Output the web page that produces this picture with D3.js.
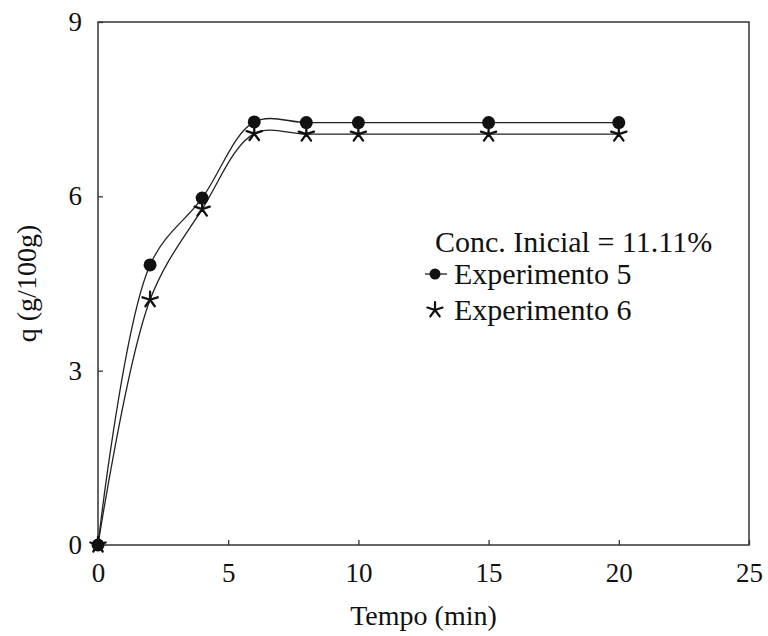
<!DOCTYPE html>
<html>
<head>
<meta charset="utf-8">
<script src="https://cdn.jsdelivr.net/npm/d3@7"></script>
<style>
  body { margin: 0; background: #fff; }
</style>
</head>
<body>
<div id="canvas"></div>
<script>
// data
const tempo = [0, 2, 4, 6, 8, 10, 15, 20];
const exp5 = [0, 4.82, 5.97, 7.28, 7.27, 7.27, 7.27, 7.27];
const exp6 = [0, 4.22, 5.78, 7.08, 7.07, 7.07, 7.07, 7.07];
const xTicks = [0, 5, 10, 15, 20, 25];
const yTicks = [0, 3, 6, 9];
const legendTitle = "Conc. Inicial = 11.11%";
const seriesNames = ["Experimento 5", "Experimento 6"];

const serif = "'Liberation Serif', 'Times New Roman', serif";

let margin = { top: 22, right: 19, bottom: 91, left: 98 },
  width = 768 - margin.left - margin.right,
  height = 636 - margin.top - margin.bottom;

let svg = d3.select("#canvas")
  .append("svg")
  .attr("width", 768)
  .attr("height", 636)
  .append("g")
  .attr("transform", "translate(" + margin.left + "," + margin.top + ")");

let x = d3.scaleLinear().domain([0, 25]).range([0, width]);
let y = d3.scaleLinear().domain([0, 9]).range([height, 0]);

// axes with inward ticks
let xAxis = svg.append("g")
  .attr("transform", "translate(0," + height + ")")
  .call(d3.axisBottom(x).tickValues(xTicks).tickSizeInner(-5).tickSizeOuter(0).tickPadding(18));
let yAxis = svg.append("g")
  .call(d3.axisLeft(y).tickValues(yTicks).tickSizeInner(-5).tickSizeOuter(0).tickPadding(16));

[xAxis, yAxis].forEach(function (a) {
  a.attr("font-family", serif).attr("font-size", 27);
  a.select(".domain").remove();
  a.selectAll("line").attr("stroke", "#333").attr("stroke-width", 1.3);
  a.selectAll("text").attr("fill", "#111");
});

// frame
svg.append("rect")
  .attr("width", width)
  .attr("height", height)
  .attr("fill", "none")
  .attr("stroke", "#333")
  .attr("stroke-width", 1.5);

// axis titles
svg.append("text")
  .attr("x", width / 2)
  .attr("y", height + 80)
  .attr("text-anchor", "middle")
  .attr("font-family", serif)
  .attr("font-size", 28)
  .attr("fill", "#111")
  .text("Tempo (min)");

svg.append("text")
  .attr("transform", "translate(-62," + (height / 2) + ") rotate(-90)")
  .attr("text-anchor", "middle")
  .attr("font-family", serif)
  .attr("font-size", 28)
  .attr("fill", "#111")
  .text("q (g/100g)");

// smooth lines
let line = d3.line()
  .x(d => x(d[0]))
  .y(d => y(d[1]))
  .curve(d3.curveCatmullRom);

[exp5, exp6].forEach(function (s) {
  svg.append("path")
    .datum(tempo.map((t, i) => [t, s[i]]))
    .attr("d", line)
    .attr("fill", "none")
    .attr("stroke", "#222")
    .attr("stroke-width", 1.3);
});

// star marker: five line arms
function starPath(r) {
  let p = "";
  [-90, -18, 54, 126, 198].forEach(function (a) {
    let rad = a * Math.PI / 180;
    p += "M0,0L" + (r * Math.cos(rad)).toFixed(2) + "," + (r * Math.sin(rad)).toFixed(2);
  });
  return p;
}

svg.selectAll(".pt5")
  .data(tempo.map((t, i) => [t, exp5[i]]))
  .enter()
  .append("circle")
  .attr("class", "pt5")
  .attr("cx", d => x(d[0]))
  .attr("cy", d => y(d[1]))
  .attr("r", 6.5)
  .attr("fill", "#111");

svg.selectAll(".pt6")
  .data(tempo.map((t, i) => [t, exp6[i]]))
  .enter()
  .append("path")
  .attr("class", "pt6")
  .attr("transform", d => "translate(" + x(d[0]) + "," + y(d[1]) + ")")
  .attr("d", starPath(8))
  .attr("fill", "none")
  .attr("stroke", "#111")
  .attr("stroke-width", 2.3)
  .attr("stroke-linecap", "round");

// legend
let lg = svg.append("g")
  .attr("transform", "translate(" + (435 - margin.left) + "," + (252 - margin.top) + ")")
  .attr("font-family", serif)
  .attr("font-size", 30)
  .attr("fill", "#111");

lg.append("text")
  .attr("x", 0)
  .attr("y", 0)
  .text(legendTitle);

let items = lg.selectAll(".item")
  .data(seriesNames)
  .enter()
  .append("g")
  .attr("class", "item")
  .attr("transform", (d, i) => "translate(0," + (22 + i * 36) + ")");

items.filter((d, i) => i === 0).append("line")
  .attr("x1", -10).attr("x2", 12)
  .attr("stroke", "#222").attr("stroke-width", 1.3);
items.filter((d, i) => i === 0).append("circle")
  .attr("r", 5.5)
  .attr("fill", "#111");
items.filter((d, i) => i === 1).append("path")
  .attr("d", starPath(8))
  .attr("fill", "none")
  .attr("stroke", "#111")
  .attr("stroke-width", 2.2)
  .attr("stroke-linecap", "round");

items.append("text")
  .attr("x", 19)
  .attr("y", 10)
  .text(d => d);
</script>
</body>
</html>
